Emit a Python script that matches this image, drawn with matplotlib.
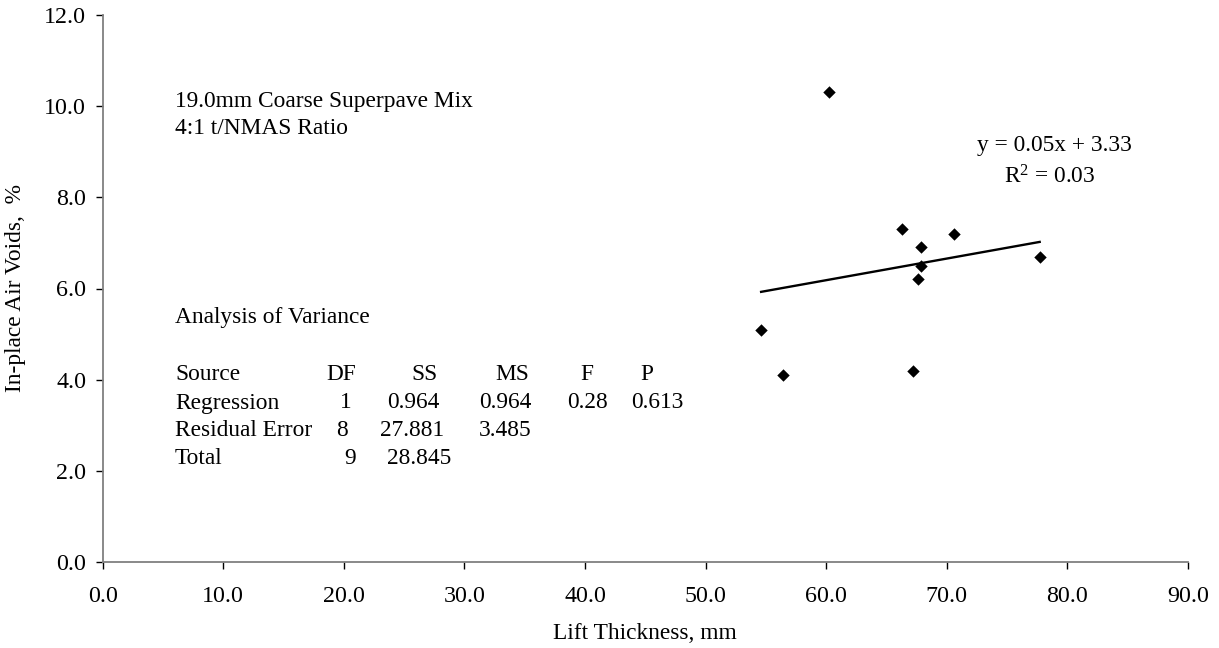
import matplotlib.pyplot as plt
import numpy as np

plt.rcParams.update({'font.family': 'Liberation Serif', 'font.size': 16.8,
                     'mathtext.fontset': 'custom',
                     'mathtext.rm': 'Liberation Serif',
                     'mathtext.it': 'Liberation Serif:italic'})

# lift thickness (mm) and in-place air voids (%)
lift_mm = [60.2, 66.3, 70.6, 67.9, 67.9, 67.6, 77.7, 54.6, 56.4, 67.2]
air_voids = [10.3, 7.3, 7.2, 6.9, 6.5, 6.2, 6.7, 5.1, 4.1, 4.2]

eq_text = "y = 0.05x + 3.33"
r2_text = "R$^\\mathrm{2}$ = 0.03"

anova_header = ["Source", "DF", "SS", "MS", "F", "P"]
anova_rows = [
    ["Regression", "1", "0.964", "0.964", "0.28", "0.613"],
    ["Residual Error", "8", "27.881", "3.485", "", ""],
    ["Total", "9", "28.845", "", "", ""],
]

W, H = 1219, 648
fig = plt.figure(figsize=(W / 100, H / 100), dpi=100, facecolor='w')
ax = fig.add_axes([102.7 / W, 1 - 562 / H, (1188 - 102.7) / W, (562 - 15) / H])

ax.scatter(lift_mm, air_voids, marker='D', s=40, color='black', zorder=3, linewidths=0)

# least squares trend line over the data range
slope, icept = np.polyfit(lift_mm, air_voids, 1)
xs = np.array([min(lift_mm), max(lift_mm)])
ax.plot(xs, slope * xs + icept, color='black', lw=1.7)

ax.set_xlim(0, 90)
ax.set_ylim(0, 12)
ax.set_xticks(np.arange(0, 91, 10))
ax.set_yticks(np.arange(0, 12.1, 2))
ax.xaxis.set_major_formatter(plt.FormatStrFormatter('%.1f'))
ax.yaxis.set_major_formatter(plt.FormatStrFormatter('%.1f'))
for s in ['top', 'right']:
    ax.spines[s].set_visible(False)
for s in ['left', 'bottom']:
    ax.spines[s].set_color('#808080')
    ax.spines[s].set_linewidth(1.3)
ax.tick_params(direction='out', length=5, width=1, color='black', labelsize=17.3)
ax.tick_params(axis='x', pad=12)
ax.tick_params(axis='y', pad=7)
ax.set_xlabel('Lift Thickness, mm', labelpad=12)
ax.set_ylabel('In-place Air Voids,  %', labelpad=13)


def put(px, py, s, **kw):
    # place text by pixel position from the top-left corner
    fig.text(px / W, 1 - py / H, s, va='center', **kw)


put(175, 101, "19.0mm Coarse Superpave Mix")
put(175, 129, "4:1 t/NMAS Ratio")
put(1054, 146, eq_text, ha='center')
put(1050, 177, r2_text, ha='center')

put(175, 318, "Analysis of Variance")
header_x = [175, 326, 411, 495, 580, 640]
col_x = [
    [175, 340, 387, 479, 567, 631],
    [175, 336, 380, 479, 567, 631],
    [175, 344, 387, 479, 567, 631],
]
for txt, x in zip(anova_header, header_x):
    put(x, 375, txt)
for r, row in enumerate(anova_rows):
    for txt, x in zip(row, col_x[r]):
        if txt:
            put(x, 403 + 28 * r, txt)

plt.savefig('out.png', dpi=100)
